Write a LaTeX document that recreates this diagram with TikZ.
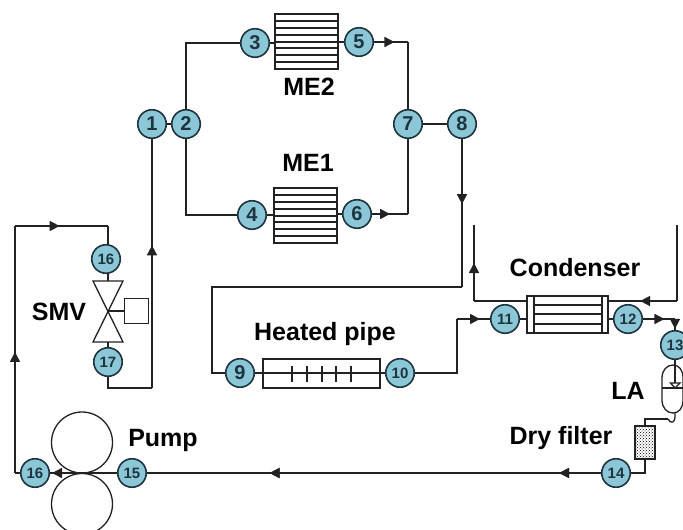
\documentclass[tikz,border=0pt]{standalone}
\usepackage{fontspec}
\setmainfont{Liberation Sans}
\usetikzlibrary{arrows.meta,decorations.markings,patterns}
\definecolor{lnc}{HTML}{222222}
\definecolor{numfill}{HTML}{8BC7D6}
\definecolor{numedge}{HTML}{1E3540}
\tikzset{
  pipe/.style={draw=lnc,line width=1.6pt},
  tip/.style={postaction={decorate},decoration={markings,mark=at position #1 with {\arrow{Triangle[length=10pt,width=10pt]}}}},
  num/.style={circle,draw=numedge,line width=1.6pt,fill=numfill,inner sep=0pt,minimum size=28.5pt,text=numedge,font=\bfseries\fontsize{20}{20}\selectfont},
  nums/.style={num,font=\bfseries\fontsize{15}{15}\selectfont},
  lbl/.style={font=\bfseries\fontsize{25}{25}\selectfont,text=black},
  box/.style={draw=lnc,line width=1.4pt,fill=white,inner sep=0pt},
  fineline/.style={draw=lnc,line width=1.3pt}
}
\begin{document}
\begin{tikzpicture}[x=1pt,y=-1pt]
\useasboundingbox (0,0) rectangle (683,530);
% equipment bodies
\node[box,minimum width=63pt,minimum height=55pt] (me2) at (306.5,41.5) {};
\node[box,minimum width=63pt,minimum height=55pt] (me1) at (305.5,215.5) {};
\node[box,minimum width=117pt,minimum height=29pt] (hp) at (321.5,373.5) {};
\node[box,minimum width=81pt,minimum height=37pt] (cond) at (567.5,314.5) {};
\node[draw=lnc,line width=1.4pt,pattern=crosshatch dots,pattern color=black,minimum width=20pt,minimum height=33pt,inner sep=0pt] (filter) at (645,442.5) {};
\node[draw=lnc,line width=1.3pt,circle,minimum size=61pt,inner sep=0pt] (rollA) at (82,442.5) {};
\node[draw=lnc,line width=1.3pt,circle,minimum size=61pt,inner sep=0pt] (rollB) at (82,504) {};
\node[box,minimum size=24.5pt] (act) at (136.5,311) {};
\draw[fineline,fill=white] (93,281) -- (123,281) -- (93,342) -- (123,342) -- cycle;
\coordinate (vc) at (108,311);
\coordinate (vt) at (108,281);
\coordinate (vb) at (108,342);
% accumulator
\draw[fineline,fill=white] (662,378) .. controls (662,370) and (667,365) .. (673,365) .. controls (679,365) and (683,370) .. (683,378) -- (683,400) .. controls (683,408) and (679,413) .. (673,413) .. controls (667,413) and (662,408) .. (662,400) -- cycle;
\draw[fineline] (662,388) -- (683,388);
\draw[fineline] (670.5,383) -- (680,383) -- (675,388) -- cycle;
% numbered points
\node[num] (n1) at (152,124) {1};
\node[num] (n2) at (186,124) {2};
\node[num] (n3) at (255,43) {3};
\node[num] (n4) at (252,215) {4};
\node[num] (n5) at (359,42) {5};
\node[num] (n6) at (357,214) {6};
\node[num] (n7) at (408,124) {7};
\node[num] (n8) at (462,124) {8};
\node[num] (n9) at (240,373) {9};
\node[nums] (n10) at (400,373) {10};
\node[nums] (n11) at (505,319) {11};
\node[nums] (n12) at (628,319) {12};
\node[nums] (n13) at (675,345) {13};
\node[nums] (n14) at (616,473) {14};
\node[nums] (n15) at (132,473) {15};
\node[nums] (n16b) at (35,473) {16};
\node[nums] (n16a) at (106,259) {16};
\node[nums] (n17) at (108,362) {17};
% free coordinates
\coordinate (a) at (186,43);
\coordinate (b) at (186,215);
\coordinate (c) at (408,42);
\coordinate (d) at (408,214);
\coordinate (e) at (462,287);
\coordinate (f) at (212,287);
\coordinate (g) at (212,373);
\coordinate (h) at (457,373);
\coordinate (i) at (457,319);
\coordinate (j) at (675,319);
\coordinate (k) at (474,225);
\coordinate (l) at (474,301);
\coordinate (m) at (677,225);
\coordinate (o) at (677,301);
\coordinate (p) at (15,473);
\coordinate (q) at (15,226);
\coordinate (r) at (108,226);
\coordinate (s) at (108,388);
\coordinate (t) at (152,388);
\coordinate (u) at (645,473);
\coordinate (v) at (645,419);
\coordinate (w) at (668,419);
% pipes
\draw[pipe] (n1) -- (n2);
\draw[pipe] (n2) -- (a) -- (n3);
\draw[pipe] (n2) -- (b) -- (n4);
\draw[pipe] (n3.east) -- (me2.west |- n3.east);
\draw[pipe] (me2.east |- n5.west) -- (n5.west);
\draw[pipe] (n4.east) -- (me1.west |- n4.east);
\draw[pipe] (me1.east |- n6.west) -- (n6.west);
\draw[pipe,tip=0.6] (n5) -- (c);
\draw[pipe] (c) -- (n7);
\draw[pipe,tip=0.5] (n6) -- (d);
\draw[pipe] (d) -- (n7);
\draw[pipe] (n7) -- (n8);
\draw[pipe,tip=0.44] (n8) -- (e);
\draw[pipe] (e) -- (f) -- (g) -- (n9);
\draw[pipe] (n9.east) -- (n10.west);
\draw[pipe] (n10) -- (h) -- (i);
\draw[pipe,tip=0.7] (i) -- (n11);
\draw[pipe] (n11.east) -- (cond.west |- n11.east);
\draw[pipe] (cond.east |- n12.west) -- (n12.west);
\draw[pipe,tip=0.67] (n12.east) -- (j);
\draw[pipe,tip=0.9] (j) -- (n13);
\draw[pipe] (cond.west |- l) -- (l);
\draw[pipe,tip=0.5] (l) -- (k);
\draw[pipe,tip=0.54] (o) -- (cond.east |- o);
\draw[pipe] (m) -- (o);
\draw[pipe] (filter.south) -- (u) -- (n14);
\draw[pipe,tip=0.092,tip=0.73] (n14) -- (n15);
\draw[pipe,tip=0.97] (n15) -- (n16b);
\draw[pipe] (n16b) -- (p);
\draw[pipe,tip=0.49] (p) -- (q);
\draw[pipe,tip=0.48] (q) -- (r);
\draw[pipe] (r) -- (r |- n16a.north);
\draw[pipe] (n16a.south -| vt) -- (vt);
\draw[pipe] (vb) -- (n17);
\draw[pipe] (n17) -- (s) -- (t);
\draw[pipe,tip=0.573] (t) -- (n1);
\draw[fineline] (vc) -- (act.west);
\draw[fineline] (n13) -- (675,383);
\draw[pipe] (filter.north) -- (v) -- (w);
\draw[fineline] (w) .. controls (670,424) and (676,424) .. (675,413);
% details
\foreach \yy in {21,28,35,42,48,55,62} \draw[fineline] (me2.west |- 0,\yy) -- (me2.east |- 0,\yy);
\foreach \yy in {195,202,209,216,222,229,236} \draw[fineline] (me1.west |- 0,\yy) -- (me1.east |- 0,\yy);
\foreach \xx in {292,307,322,336,351} \draw[fineline] (\xx,366) -- (\xx,382);
\draw[fineline] (534,296) -- (534,333);
\draw[fineline] (602,296) -- (602,333);
\foreach \yy in {305,314,324} \draw[fineline] (534,\yy) -- (602,\yy);
% labels
\node[lbl] (lme2) at (309,87) {ME2};
\node[lbl] (lme1) at (308,163) {ME1};
\node[lbl] (lsmv) at (59,312) {SMV};
\node[lbl] (lhp) at (325,334) {Heated pipe};
\node[lbl] (lcond) at (575,268) {Condenser};
\node[lbl] (lla) at (628,391) {LA};
\node[lbl] (ldf) at (561,438) {Dry filter};
\node[lbl] (lpump) at (163,440) {Pump};
\end{tikzpicture}
\end{document}
